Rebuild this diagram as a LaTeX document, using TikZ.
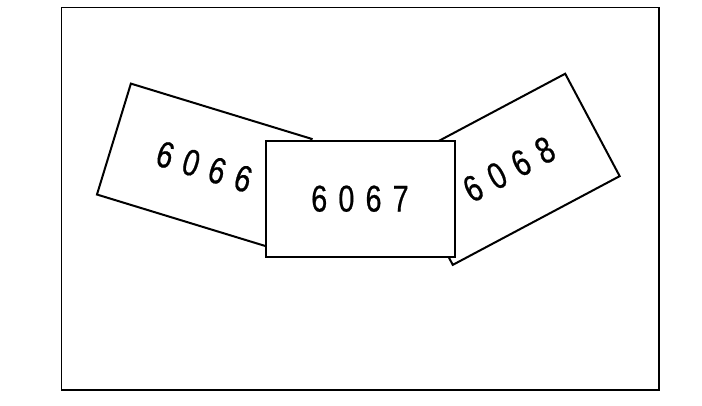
\documentclass[tikz,border=0pt]{standalone}
\usepackage{fontspec}
\newfontfamily\cardfont[FakeStretch=0.77,LetterSpace=30,FakeBold=0.6]{Liberation Sans}
\tikzset{
  card/.style={draw=black, fill=white, line width=2pt, minimum width=189pt,
    minimum height=116pt, inner sep=0pt, font=\cardfont\fontsize{37.3}{40}\selectfont},
  frame/.style={draw=black, line width=1.3pt, minimum width=597.3pt,
    minimum height=382.7pt, inner sep=0pt}
}
\begin{document}
\begin{tikzpicture}[x=1pt,y=-1pt]
\useasboundingbox (0,0) rectangle (702,406);
\node[frame] (outer) at (360.35,198.65) {};
\node[card, rotate=-17] (c6066) at (204.3,166.7) {6066};
\node[card, rotate=28] (c6068) at (509,169.3) {6068};
\node[card] (c6067) at (360,198.7) {6067};
\end{tikzpicture}
\end{document}
